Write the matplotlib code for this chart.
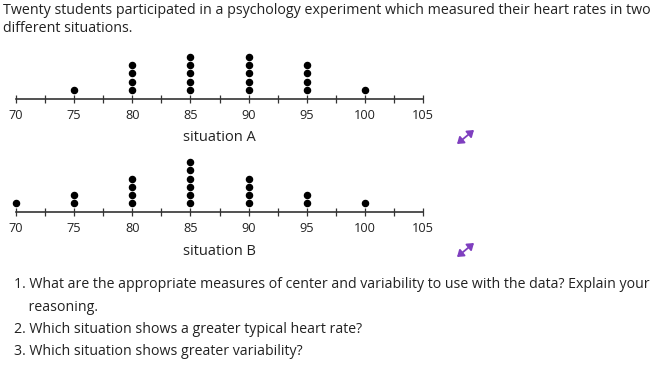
import numpy as np
import matplotlib
matplotlib.use("Agg")
import matplotlib.pyplot as plt
from matplotlib.patches import FancyArrowPatch

plt.rcParams['font.family'] = ['Open Sans', 'DejaVu Sans']

# heart rates and how many students had each one
rates_a = [75, 80, 85, 90, 95, 100]
counts_a = [1, 4, 5, 5, 4, 1]
rates_b = [70, 75, 80, 85, 90, 95, 100]
counts_b = [1, 2, 4, 6, 4, 2, 1]

tick_labels = [70, 75, 80, 85, 90, 95, 100, 105]
questions = [
    "1. What are the appropriate measures of center and variability to use with the data? Explain your",
    "    reasoning.",
    "2. Which situation shows a greater typical heart rate?",
    "3. Which situation shows greater variability?",
]

W, H = 657, 367
fig = plt.figure(figsize=(W / 100, H / 100), dpi=100)


def px(x, y):
    # pixel coordinates (top-left origin) -> figure fraction
    return x / W, 1 - y / H


def dot_plot(rates, counts, axis_y, top_y, label):
    left, right = 16, 423
    ax = fig.add_axes([left / W, 1 - axis_y / H, (right - left) / W, (axis_y - top_y) / H])
    step = 8.3
    ax.set_xlim(70, 105)
    ax.set_ylim(-9 / step, (axis_y - top_y - 9) / step)
    for r, c in zip(rates, counts):
        ax.plot([r] * c, np.arange(c), 'o', color='black', markersize=4.4, clip_on=False)
    for s in ['top', 'left', 'right']:
        ax.spines[s].set_visible(False)
    ax.spines['bottom'].set_color('#333333')
    ax.spines['bottom'].set_linewidth(1.2)
    ax.set_yticks([])
    ax.set_xticks(tick_labels)
    ax.set_xticks(np.arange(72.5, 105, 5), minor=True)
    ax.tick_params(axis='x', which='both', direction='inout', length=6, width=0.9,
                   color='#333333', labelsize=9.2, pad=4, labelcolor='#222222')
    ax.set_xlabel(label, fontsize=10.5, labelpad=6, color='#222222')
    ax.patch.set_alpha(0)
    return ax


dot_plot(rates_a, counts_a, 99, 50, "situation A")
dot_plot(rates_b, counts_b, 212.5, 155, "situation B")

# expand icons
for ay in [137, 250]:
    x0, y0 = px(457, ay + 7)
    x1, y1 = px(474, ay - 7)
    fig.patches.append(FancyArrowPatch((x0, y0), (x1, y1), transform=fig.transFigure,
                                       arrowstyle='<|-|>,head_length=0.5,head_width=0.35',
                                       mutation_scale=7.5, shrinkA=0, shrinkB=0,
                                       color='#7f3fbf', linewidth=1.3))

fig.text(*px(3, 10), "Twenty students participated in a psychology experiment which measured their heart rates in two",
         fontsize=10.25, va='center', ha='left', color='#222222')
fig.text(*px(3, 28), "different situations.", fontsize=10.25, va='center', ha='left', color='#222222')

for i, q in enumerate(questions):
    fig.text(*px(14, 285 + 22.3 * i), q, fontsize=10.2, va='center', ha='left', color='#222222')

fig.savefig("out.png", dpi=100)
